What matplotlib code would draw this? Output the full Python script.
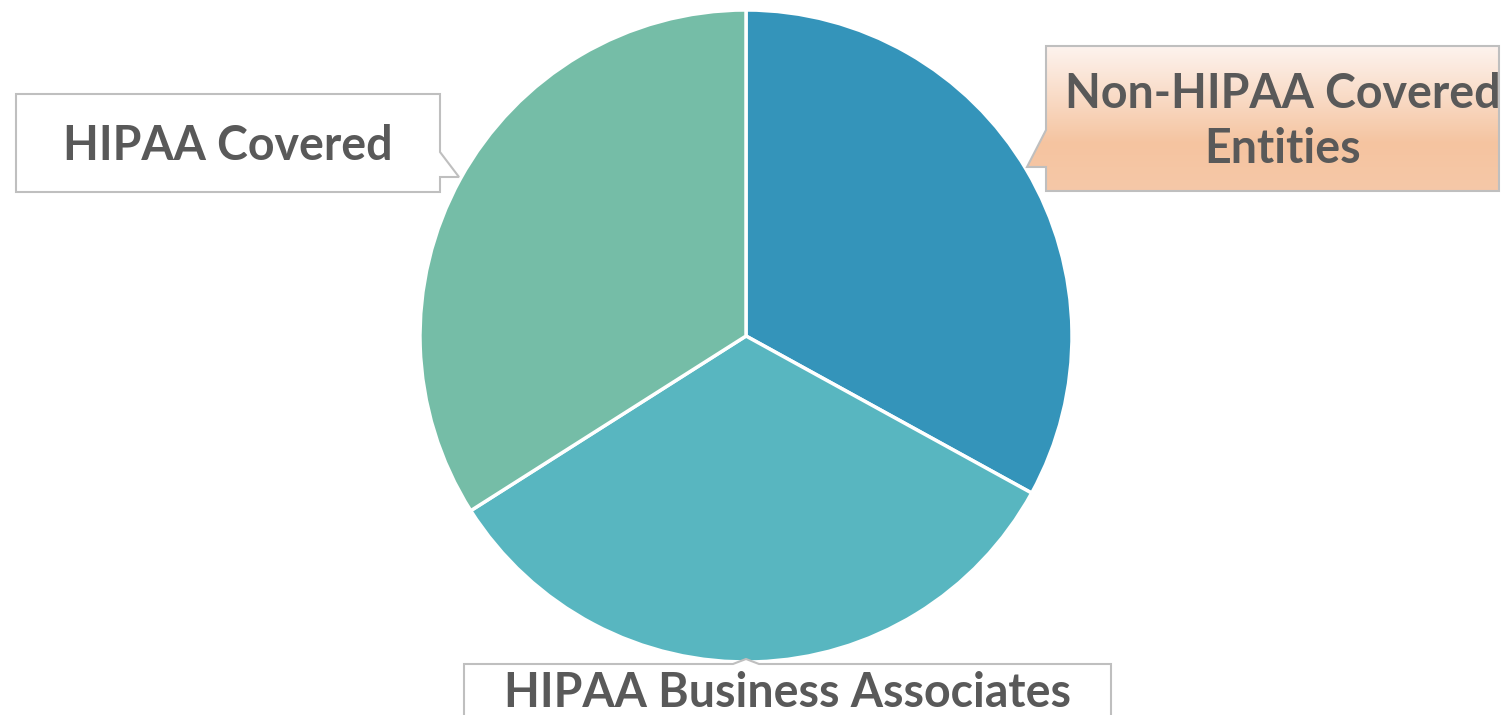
import numpy as np
import matplotlib
matplotlib.use("Agg")
import matplotlib.pyplot as plt
import matplotlib.patches as patches
from matplotlib.colors import LinearSegmentedColormap

W, H = 1501, 715

# data: shares per group
labels = ['Non-HIPAA Covered\nEntities', 'HIPAA Business Associates', 'HIPAA Covered']
values = [33, 33, 34]
colors = ['#3494BA', '#58B6C0', '#75BDA7']

plt.rcParams['font.family'] = ['Lato', 'DejaVu Sans']

fig = plt.figure(figsize=(W / 100, H / 100), dpi=100)
ax = fig.add_axes([0, 0, 1, 1])


def P(pts):
    # pixel coords (y down) -> data coords (y up)
    return [(x, H - y) for x, y in pts]


ax.pie(values, colors=colors, startangle=90, counterclock=False,
       center=(746, H - 336), radius=326,
       wedgeprops=dict(edgecolor='white', linewidth=2.5))

ax.set_xlim(0, W)
ax.set_ylim(0, H)
ax.set_aspect('equal')
ax.axis('off')

border = '#BFBFBF'
txt = '#595959'
fs = 33.5

# HIPAA Covered callout
left_box = patches.Polygon(P([(16, 94), (440, 94), (440, 152), (459, 177), (440, 177),
                              (440, 192), (16, 192)]),
                           closed=True, facecolor='white', edgecolor=border, lw=1.5, zorder=3)
ax.add_patch(left_box)
ax.text(228, H - 160, labels[2], ha='center', va='baseline', fontsize=fs,
        fontweight='bold', color=txt, zorder=5)

# Non-HIPAA callout with peach gradient
right_pts = P([(1046, 46), (1499, 46), (1499, 191), (1046, 191), (1046, 167),
               (1027, 167), (1046, 130)])
right_box = patches.Polygon(right_pts, closed=True, facecolor='none',
                            edgecolor=border, lw=1.5, zorder=4)
ax.add_patch(right_box)
grad_cmap = LinearSegmentedColormap.from_list('peach', ['#FDF3EE', '#F9DCC8', '#F5C4A0', '#F6C8A8'])
grad = np.linspace(0, 1, 256).reshape(-1, 1)
im = ax.imshow(grad, cmap=grad_cmap, extent=(1020, 1501, H - 192, H - 46),
               origin='upper', aspect='auto', zorder=3)
clip = patches.Polygon(right_pts, closed=True, transform=ax.transData)
im.set_clip_path(clip)
for line, base in zip(labels[0].split('\n'), [108, 163]):
    ax.text(1283, H - base, line, ha='center', va='baseline', fontsize=fs,
            fontweight='bold', color=txt, zorder=5)

# Business Associates callout
bottom_box = patches.Polygon(P([(464, 664), (733, 664), (746, 659), (759, 664), (1111, 664),
                                (1111, 725), (464, 725)]),
                             closed=True, facecolor='white', edgecolor=border, lw=1.5, zorder=3)
ax.add_patch(bottom_box)
ax.text(787, H - 707, labels[1], ha='center', va='baseline', fontsize=fs,
        fontweight='bold', color=txt, zorder=5)

ax.set_xlim(0, W)
ax.set_ylim(0, H)
fig.savefig('out.png', dpi=100, facecolor='white')
